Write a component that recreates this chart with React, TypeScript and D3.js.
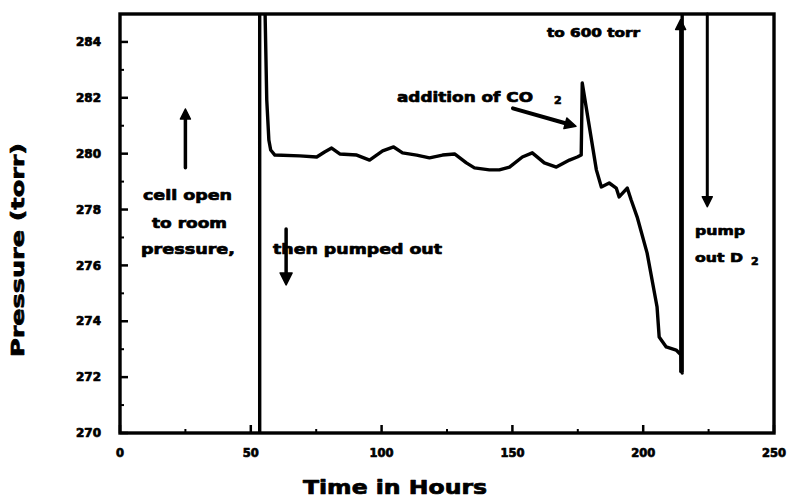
import React from "react";
import * as d3 from "d3";

// ---- data ----
const hours = [53.4, 53.4, 55.3, 56.1, 56.9, 57.6, 59.2, 68.7, 75.2, 78.2, 80.9, 84.0, 90.5, 95.4, 100.4, 104.6, 108.0, 113.4, 118.3, 123.3, 127.9, 132.4, 135.5, 141.2, 145.0, 148.9, 153.8, 157.6, 162.2, 166.8, 171.8, 174.8, 176.3, 176.7, 182.1, 184.0, 187.0, 189.7, 190.8, 193.9, 195.4, 197.7, 201.5, 205.3, 206.1, 208.8, 212.6, 214.5, 214.9, 214.9];
const pressure = [269.5, 285.8, 285.8, 281.92, 280.49, 280.13, 279.95, 279.92, 279.88, 280.06, 280.2, 279.99, 279.95, 279.77, 280.1, 280.24, 280.03, 279.95, 279.85, 279.95, 279.99, 279.67, 279.49, 279.42, 279.42, 279.52, 279.88, 280.03, 279.67, 279.52, 279.77, 279.88, 279.95, 282.53, 279.42, 278.81, 278.95, 278.77, 278.45, 278.77, 278.34, 277.73, 276.44, 274.51, 273.44, 273.08, 272.97, 272.79, 272.15, 285.8];

const xMajorTicks = [0, 50, 100, 150, 200, 250];
const xMinorTicks = [25, 75, 125, 175, 225];
const yMajorTicks = [270, 272, 274, 276, 278, 280, 282, 284];
const yMinorTicks = [271, 273, 275, 277, 279, 281, 283];
const yTickLabels = ["270", "272", "274", "276", "278", "280", "282", "284"];
const xTickLabels = ["0", "50", "100", "150", "200", "250"];

// annotation arrows in data units: [x1, y1, x2, y2] (head at x2,y2)
const arrowUpCell = [25, 279.5, 25, 281.6];
const arrowDownPump = [63.5, 277.3, 63.5, 275.3];
const arrowCO2 = [150.2, 281.62, 174.3, 280.98];
const arrowUp660 = [214.3, 272.2, 214.3, 284.8];
const arrowDownD2 = [224.5, 285, 224.5, 278.1];

const W = 788, H = 501;
const FONT = "'DejaVu Sans', Arial, sans-serif";

function Arrow({ a, x, y, head = 9, width = 3.5 }: any) {
  const x1 = x(a[0]), y1 = y(a[1]), x2 = x(a[2]), y2 = y(a[3]);
  const ang = Math.atan2(y2 - y1, x2 - x1);
  const hw = head * 0.5;
  const bx = x2 - head * Math.cos(ang), by = y2 - head * Math.sin(ang);
  const px = -Math.sin(ang) * hw, py = Math.cos(ang) * hw;
  return (
    <g>
      <line x1={x1} y1={y1} x2={bx} y2={by} stroke="#000" strokeWidth={width} strokeLinecap="round" />
      <path d={`M${x2},${y2}L${bx + px},${by + py}L${bx - px},${by - py}Z`} fill="#000" stroke="#000" strokeWidth={1.5} strokeLinejoin="round" />
    </g>
  );
}

export default function App() {
  const x = d3.scaleLinear().domain([0, 250]).range([120, 774]);
  const y = d3.scaleLinear().domain([270, 285]).range([433, 14]);
  const pts: [number, number][] = hours.map((h, i) => [h, pressure[i]]);
  const line = d3.line<[number, number]>().x((d) => x(d[0])).y((d) => y(d[1]));
  const x0 = x(0), x1 = x(250), yT = y(285), yB = y(270);
  const textStyle: any = { fontFamily: FONT, fontWeight: 900, fill: "#000", stroke: "#000", strokeWidth: 0.7, strokeLinejoin: "round" };

  return (
    <svg width={W} height={H} style={{ position: "absolute", left: 0, top: 0, background: "#fff" }}>
      <defs>
        <clipPath id="plot">
          <rect x={x0} y={yT} width={x1 - x0} height={yB - yT} />
        </clipPath>
      </defs>
      <rect x={0} y={0} width={W} height={H} fill="#fff" />
      {/* data */}
      <path d={line(pts) || ""} fill="none" stroke="#000" strokeWidth={3.4} strokeLinejoin="round" clipPath="url(#plot)" />
      {/* frame */}
      <rect x={x0} y={yT} width={x1 - x0} height={yB - yT} fill="none" stroke="#000" strokeWidth={3.4} />
      {/* ticks */}
      {xMajorTicks.map((t) => (
        <line key={"xM" + t} x1={x(t)} x2={x(t)} y1={yB} y2={yB - 8} stroke="#000" strokeWidth={2.5} />
      ))}
      {xMinorTicks.map((t) => (
        <line key={"xm" + t} x1={x(t)} x2={x(t)} y1={yB} y2={yB - 4} stroke="#000" strokeWidth={2} />
      ))}
      {yMajorTicks.map((t) => (
        <line key={"yM" + t} x1={x0} x2={x0 + 8} y1={y(t)} y2={y(t)} stroke="#000" strokeWidth={2.5} />
      ))}
      {yMinorTicks.map((t) => (
        <line key={"ym" + t} x1={x0} x2={x0 + 4} y1={y(t)} y2={y(t)} stroke="#000" strokeWidth={2} />
      ))}
      {/* tick labels */}
      {yMajorTicks.map((t, i) => (
        <text key={"yl" + t} x={101} y={y(t)} dy="0.36em" textAnchor="end" fontSize={11.5} style={textStyle} textLength={25} lengthAdjust="spacingAndGlyphs">
          {yTickLabels[i]}
        </text>
      ))}
      {xMajorTicks.map((t, i) => (
        <text key={"xl" + t} x={x(t)} y={457} textAnchor="middle" fontSize={11.5} style={textStyle}>
          {xTickLabels[i]}
        </text>
      ))}
      {/* axis titles */}
      <text x={395} y={494} textAnchor="middle" fontSize={19} style={textStyle} textLength={184} lengthAdjust="spacingAndGlyphs">
        Time in Hours
      </text>
      <text transform={`translate(24,250) rotate(-90)`} textAnchor="middle" fontSize={18} style={textStyle} textLength={214} lengthAdjust="spacingAndGlyphs">
        Pressure (torr)
      </text>
      {/* annotations */}
      <g fontSize={14}>
        <text x={143} y={200} style={textStyle} textLength={89} lengthAdjust="spacingAndGlyphs">cell open</text>
        <text x={152} y={228} style={textStyle} textLength={75} lengthAdjust="spacingAndGlyphs">to room</text>
        <text x={141} y={254} style={textStyle} textLength={94} lengthAdjust="spacingAndGlyphs">pressure,</text>
        <text x={273} y={254} style={textStyle} textLength={169} lengthAdjust="spacingAndGlyphs">then pumped out</text>
        <text x={397} y={102} style={textStyle} textLength={136} lengthAdjust="spacingAndGlyphs">addition of CO</text>
        <text x={554} y={104} style={textStyle} fontSize={11}>2</text>
        <text x={547} y={37} style={textStyle} textLength={93} lengthAdjust="spacingAndGlyphs" fontSize={12}>to 600 torr</text>
        <text x={695} y={235} style={textStyle} textLength={50} lengthAdjust="spacingAndGlyphs" fontSize={13}>pump</text>
        <text x={695} y={262} style={textStyle} textLength={48} lengthAdjust="spacingAndGlyphs" fontSize={13}>out D</text>
        <text x={751} y={265} style={textStyle} fontSize={11}>2</text>
      </g>
      <Arrow a={arrowUpCell} x={x} y={y} head={10} />
      <Arrow a={arrowDownPump} x={x} y={y} head={12} />
      <Arrow a={arrowCO2} x={x} y={y} head={11} width={4} />
      <Arrow a={arrowUp660} x={x} y={y} head={10} width={3} />
      <Arrow a={arrowDownD2} x={x} y={y} head={10} width={3} />
    </svg>
  );
}
